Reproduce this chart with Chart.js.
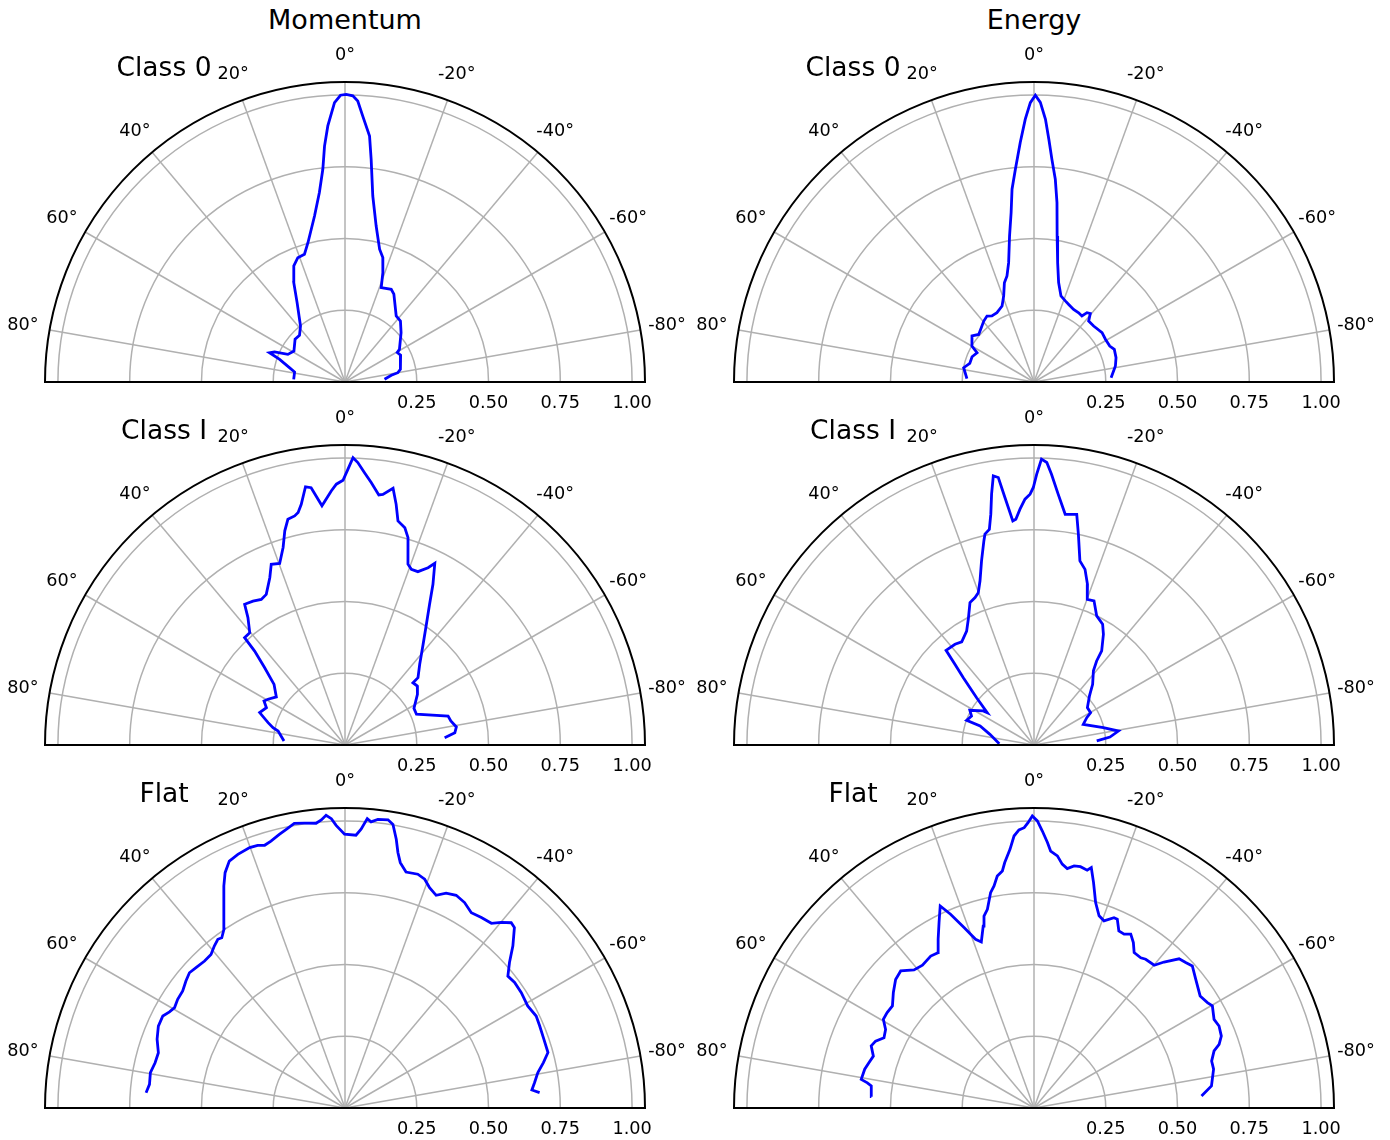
<!DOCTYPE html>
<html>
<head>
<meta charset="utf-8">
<script src="https://cdn.jsdelivr.net/npm/chart.js@4.4.0/dist/chart.umd.min.js"></script>
<style>
  body { margin: 0; background: #fff; overflow: hidden; width: 1390px; height: 1140px; position: relative; font-family: "DejaVu Sans", sans-serif; }
  canvas { position: absolute; }
  .head { position: absolute; top: 4px; width: 300px; line-height: 32px; text-align: center; font-size: 27px; color: #000; }
</style>
</head>
<body>
<div class="head" style="left:195px">Momentum</div>
<div class="head" style="left:884px">Energy</div>
<script>
// angles in degrees (0 = up, positive = left), radii normalised
const momClass0Theta = [87.0,78.8,75.5,70.9,68.8,66.9,64.2,58.8,49.4,44.3,38.5,31.1,27.3,23.8,20.8,17.6,14.9,10.4,7.7,5.95,4.96,3.84,2.15,0.9,-0.23,-1.57,-2.6,-3.8,-5.7,-6.7,-8.5,-11.3,-14.6,-16.9,-19.1,-21.0,-26.5,-29.1,-37.8,-42.3,-48.7,-59.1,-60.6,-64.3,-77.1,-80.0,-81.8,-86.1];
const momClass0R = [0.179,0.179,0.200,0.241,0.282,0.267,0.221,0.208,0.229,0.227,0.249,0.323,0.389,0.442,0.463,0.467,0.502,0.588,0.666,0.745,0.825,0.894,0.974,0.999,1.002,0.997,0.980,0.929,0.861,0.781,0.655,0.554,0.478,0.453,0.403,0.352,0.361,0.350,0.291,0.287,0.260,0.221,0.209,0.215,0.198,0.187,0.163,0.138];

const energyClass0Theta = [87.2,78.5,73.8,67.8,62.8,59.9,53.4,49.3,39.5,35.5,32.5,28.1,22.8,19.4,16.6,14.3,12.0,9.5,7.7,6.5,5.0,3.3,1.9,0.75,-0.27,-1.3,-2.5,-3.5,-4.6,-6.0,-7.3,-9.0,-11.2,-13.9,-17.4,-21.1,-24.1,-28.6,-32.8,-36.0,-37.4,-39.4,-41.9,-46.8,-54.0,-59.1,-64.6,-67.9,-73.5,-78.9,-86.8];
const energyClass0R = [0.234,0.250,0.233,0.233,0.223,0.250,0.269,0.254,0.275,0.282,0.273,0.274,0.287,0.318,0.361,0.381,0.425,0.516,0.595,0.676,0.744,0.835,0.916,0.973,0.999,0.974,0.916,0.847,0.778,0.710,0.630,0.515,0.424,0.357,0.314,0.303,0.296,0.288,0.287,0.284,0.304,0.309,0.285,0.285,0.293,0.290,0.292,0.302,0.298,0.289,0.269];

const momClass1Theta = [86.2,78.2,76.5,73.8,69.2,64.6,61.5,59.3,55.0,49.5,46.1,43.9,43.1,40.3,37.3,35.5,32.6,29.9,27.6,24.2,22.2,19.8,17.4,15.7,14.2,12.4,11.4,10.3,8.7,7.5,5.5,3.1,1.9,0.43,-0.62,-1.6,-2.6,-4.1,-5.7,-7.7,-8.6,-10.6,-12.0,-13.3,-15.4,-16.9,-19.2,-20.7,-22.8,-25.1,-26.3,-28.7,-31.0,-34.0,-37.8,-42.8,-47.3,-47.5,-50.8,-55.0,-62.0,-66.7,-74.3,-77.2,-80.8,-83.6,-85.8];
const momClass1R = [0.213,0.238,0.258,0.279,0.318,0.303,0.321,0.312,0.292,0.325,0.389,0.454,0.512,0.513,0.558,0.602,0.595,0.585,0.592,0.639,0.680,0.672,0.721,0.775,0.811,0.817,0.826,0.852,0.910,0.904,0.837,0.886,0.909,0.922,0.961,1.001,0.985,0.951,0.919,0.879,0.883,0.910,0.857,0.802,0.785,0.755,0.667,0.654,0.655,0.682,0.706,0.638,0.572,0.507,0.444,0.383,0.346,0.321,0.325,0.308,0.272,0.271,0.373,0.378,0.393,0.385,0.348];

const energyClass1Theta = [87.8,76.4,70.6,69.9,65.1,61.6,56.1,55.3,50.5,46.4,44.4,42.9,38.1,35.0,30.6,27.6,24.2,21.8,20.1,18.2,15.9,13.8,13.1,11.7,10.6,9.6,8.6,7.6,6.7,5.4,4.6,3.4,2.1,0.9,0.15,-0.56,-1.5,-2.6,-3.7,-5.5,-7.7,-8.9,-10.5,-11.9,-14.0,-16.2,-18.4,-20.1,-22.6,-25.9,-29.6,-32.1,-35.7,-36.7,-38.7,-44.0,-48.5,-55.0,-60.3,-62.6,-67.3,-76.0,-80.6,-84.0,-86.3];
const energyClass1R = [0.121,0.158,0.199,0.250,0.240,0.254,0.213,0.198,0.259,0.340,0.393,0.450,0.446,0.439,0.461,0.494,0.544,0.553,0.565,0.602,0.667,0.732,0.754,0.767,0.818,0.886,0.948,0.940,0.868,0.784,0.789,0.823,0.857,0.874,0.897,0.943,0.996,0.985,0.945,0.878,0.811,0.813,0.817,0.750,0.661,0.637,0.590,0.540,0.544,0.500,0.484,0.455,0.404,0.365,0.331,0.294,0.258,0.227,0.227,0.207,0.186,0.249,0.298,0.266,0.219];

const momFlatTheta = [85.6,83.1,79.7,76.6,73.5,69.9,66.3,63.2,61.3,59.5,57.0,54.2,51.4,49.0,46.7,43.7,41.1,38.9,37.0,35.9,34.1,32.3,30.1,28.6,27.0,25.1,22.9,20.1,18.4,17.0,15.5,13.5,11.9,10.1,8.1,5.8,4.7,3.7,2.7,1.8,0.1,-2.3,-3.3,-4.4,-5.2,-6.5,-8.5,-9.6,-10.8,-11.7,-12.7,-14.5,-17.3,-19.2,-21.0,-23.2,-25.2,-27.6,-30.2,-32.9,-35.6,-38.4,-40.1,-41.9,-43.2,-46.0,-48.5,-51.0,-53.5,-56.8,-60.8,-64.3,-67.1,-70.9,-74.7,-77.1,-79.6,-82.4,-84.5,-85.5];
const momFlatR = [0.695,0.686,0.689,0.680,0.678,0.697,0.710,0.711,0.697,0.689,0.695,0.697,0.709,0.718,0.713,0.708,0.710,0.725,0.736,0.732,0.752,0.791,0.841,0.881,0.920,0.950,0.959,0.966,0.964,0.957,0.965,0.980,0.992,1.007,1.002,0.997,1.007,1.022,1.009,0.985,0.954,0.951,0.973,1.011,1.001,1.012,1.015,1.002,0.953,0.909,0.876,0.849,0.853,0.844,0.822,0.806,0.827,0.836,0.828,0.810,0.816,0.821,0.845,0.867,0.862,0.813,0.765,0.730,0.735,0.734,0.729,0.739,0.736,0.733,0.733,0.709,0.683,0.666,0.654,0.680];

const energyFlatTheta = [86.0,82.3,81.4,80.6,77.1,74.6,72.1,69.1,67.1,64.9,62.1,59.5,57.0,54.2,50.6,47.1,44.2,41.0,38.0,34.2,31.7,29.6,27.1,24.9,23.3,21.2,19.1,17.6,15.6,14.6,13.2,11.4,10.2,9.0,7.6,6.8,5.3,4.2,3.1,2.0,1.2,0.33,-0.67,-1.7,-2.9,-3.7,-5.3,-6.6,-7.9,-9.4,-10.9,-12.6,-13.4,-14.8,-16.7,-18.7,-20.5,-22.8,-23.8,-25.6,-27.4,-29.1,-31.0,-32.8,-35.4,-36.9,-40.1,-41.7,-44.2,-46.2,-48.1,-51.5,-56.0,-58.7,-60.2,-63.8,-66.1,-69.0,-71.0,-72.4,-75.2,-77.8,-82.9,-85.9];
const energyFlatR = [0.568,0.572,0.587,0.610,0.605,0.596,0.588,0.607,0.599,0.577,0.585,0.609,0.610,0.608,0.634,0.658,0.666,0.637,0.631,0.640,0.636,0.676,0.726,0.776,0.735,0.674,0.622,0.607,0.658,0.691,0.711,0.765,0.786,0.818,0.833,0.861,0.905,0.950,0.970,0.977,0.994,1.017,1.000,0.966,0.926,0.897,0.882,0.855,0.842,0.855,0.856,0.849,0.861,0.812,0.747,0.707,0.696,0.719,0.719,0.684,0.682,0.693,0.672,0.644,0.642,0.648,0.650,0.681,0.725,0.732,0.741,0.720,0.698,0.707,0.716,0.699,0.705,0.699,0.682,0.658,0.640,0.640,0.623,0.585];

const thetaTicks = [80, 60, 40, 20, 0, -20, -40, -60, -80];
const rTicks = [0.25, 0.5, 0.75, 1.0];
const rTickLabels = ['0.25', '0.50', '0.75', '1.00'];
const rMax = 1.045;

const panels = [
    { cx: 345,  cy: 382,  label: 'Class 0', theta: momClass0Theta,    r: momClass0R },
    { cx: 1034, cy: 382,  label: 'Class 0', theta: energyClass0Theta, r: energyClass0R },
    { cx: 345,  cy: 745,  label: 'Class I', theta: momClass1Theta,    r: momClass1R },
    { cx: 1034, cy: 745,  label: 'Class I', theta: energyClass1Theta, r: energyClass1R },
    { cx: 345,  cy: 1108, label: 'Flat',    theta: momFlatTheta,      r: momFlatR },
    { cx: 1034, cy: 1108, label: 'Flat',    theta: energyFlatTheta,   r: energyFlatR }
];

const deg = Math.PI / 180;

// draws the half-polar grid, spines and labels using the chart's own scales
const polarGrid = {
    id: 'polarGrid',
    beforeDatasetsDraw(chart) {
        const ctx = chart.ctx;
        const xs = chart.scales.x, ys = chart.scales.y;
        const cx = xs.getPixelForValue(0), cy = ys.getPixelForValue(0);
        const rad = v => xs.getPixelForValue(v) - cx;
        const R = rad(rMax);
        ctx.save();
        ctx.strokeStyle = '#b0b0b0';
        ctx.lineWidth = 1.5;
        rTicks.forEach(t => {
            ctx.beginPath();
            ctx.arc(cx, cy, rad(t), Math.PI, 2 * Math.PI);
            ctx.stroke();
        });
        thetaTicks.forEach(t => {
            ctx.beginPath();
            ctx.moveTo(cx, cy);
            ctx.lineTo(cx - R * Math.sin(t * deg), cy - R * Math.cos(t * deg));
            ctx.stroke();
        });
        ctx.restore();
    },
    afterDatasetsDraw(chart, args, opts) {
        const ctx = chart.ctx;
        const xs = chart.scales.x, ys = chart.scales.y;
        const cx = xs.getPixelForValue(0), cy = ys.getPixelForValue(0);
        const rad = v => xs.getPixelForValue(v) - cx;
        const R = rad(rMax);
        ctx.save();
        ctx.strokeStyle = '#000';
        ctx.lineWidth = 2;
        ctx.beginPath();
        ctx.arc(cx, cy, R, Math.PI, 2 * Math.PI);
        ctx.closePath();
        ctx.stroke();

        ctx.fillStyle = '#000';
        ctx.font = '17.7px "DejaVu Sans"';
        ctx.textAlign = 'center';
        ctx.textBaseline = 'middle';
        thetaTicks.forEach(t => {
            const lr = R + 27;
            ctx.fillText(t + '°', cx - lr * Math.sin(t * deg), cy - lr * Math.cos(t * deg));
        });
        rTicks.forEach((t, i) => {
            ctx.fillText(rTickLabels[i], cx + rad(t), cy + 21);
        });

        ctx.font = '26.5px "DejaVu Sans"';
        ctx.fillText(opts.label, cx - 181, cy - 313);
        ctx.restore();
    }
};

panels.forEach((p, i) => {
    const canvas = document.createElement('canvas');
    canvas.width = 690;
    canvas.height = 400;
    canvas.style.left = (p.cx - 345) + 'px';
    canvas.style.top = (p.cy - 345) + 'px';
    document.body.appendChild(canvas);

    const points = p.theta.map((t, k) => ({
        x: -p.r[k] * Math.sin(t * deg),
        y: p.r[k] * Math.cos(t * deg)
    }));

    new Chart(canvas.getContext('2d'), {
        type: 'scatter',
        data: {
            datasets: [{
                data: points,
                showLine: true,
                borderColor: '#0000ff',
                borderWidth: 2.8,
                pointRadius: 0,
                tension: 0
            }]
        },
        options: {
            responsive: false,
            animation: false,
            events: [],
            layout: { padding: { left: 45, right: 45, top: 45, bottom: 55 } },
            scales: {
                x: { type: 'linear', min: -rMax, max: rMax, display: false },
                y: { type: 'linear', min: 0, max: rMax, display: false }
            },
            plugins: {
                legend: { display: false },
                tooltip: { enabled: false },
                polarGrid: { label: p.label }
            }
        },
        plugins: [polarGrid]
    });
});
</script>
</body>
</html>
